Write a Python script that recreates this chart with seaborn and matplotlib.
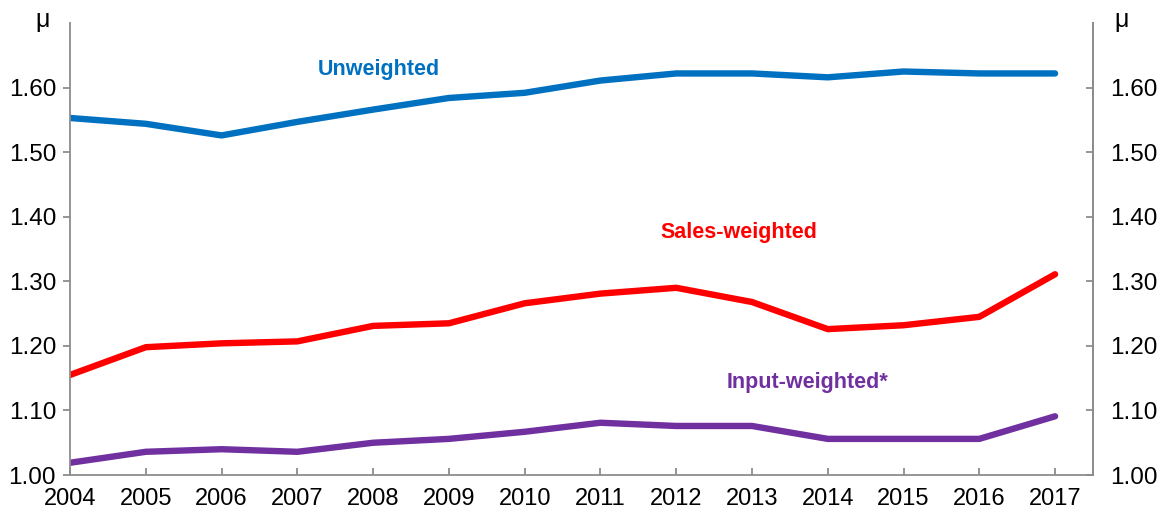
import pandas as pd
import matplotlib
matplotlib.use("Agg")
import matplotlib.pyplot as plt
import seaborn as sns

# ------------------------------
# Data
# ------------------------------
years = list(range(2004, 2018))
unweighted = [1.553, 1.544, 1.526, 1.547, 1.566, 1.584, 1.592, 1.611, 1.622, 1.622, 1.616, 1.625, 1.622, 1.622]
sales_weighted = [1.155, 1.198, 1.204, 1.207, 1.231, 1.235, 1.266, 1.281, 1.290, 1.268, 1.226, 1.232, 1.245, 1.311]
input_weighted = [1.019, 1.036, 1.040, 1.036, 1.050, 1.056, 1.067, 1.081, 1.076, 1.076, 1.056, 1.056, 1.056, 1.091]

series_names = ["Unweighted", "Sales-weighted", "Input-weighted*"]
series_colors = ["#0070C0", "#FF0000", "#7030A0"]
y_ticks = [1.00, 1.10, 1.20, 1.30, 1.40, 1.50, 1.60]

df = pd.DataFrame({
    "year": years * 3,
    "markup": unweighted + sales_weighted + input_weighted,
    "series": [series_names[0]] * 14 + [series_names[1]] * 14 + [series_names[2]] * 14,
})

# ------------------------------
# Style
# ------------------------------
sns.set_style("white")
plt.rcParams['font.family'] = ['Liberation Sans', 'DejaVu Sans']
plt.rcParams['text.color'] = 'black'
plt.rcParams['xtick.color'] = 'black'
plt.rcParams['ytick.color'] = 'black'

fig = plt.figure(figsize=(11.61, 5.13), dpi=100)
ax = fig.add_axes([0.0603, 0.074, 0.8811, 0.881])

sns.lineplot(data=df, x="year", y="markup", hue="series", palette=series_colors,
             hue_order=series_names, linewidth=4.6, legend=False, ax=ax,
             solid_capstyle="round")

ax.set_xlim(2004, 2017.5)
ax.set_ylim(1.0, 1.7)
ax.set_xticks(years)
ax.set_yticks(y_ticks)
ax.set_yticklabels([f"{t:.2f}" for t in y_ticks])
ax.set_xlabel("")
ax.set_ylabel("")

spine_color = "#8C8C8C"
ax.spines["top"].set_visible(False)
for side in ["left", "right", "bottom"]:
    ax.spines[side].set_color(spine_color)
    ax.spines[side].set_linewidth(1.3)

ax.tick_params(axis="y", which="both", direction="out", length=5, width=1.3,
               color=spine_color, labelcolor="black", labelsize=17.5, left=True, pad=5)
ax.tick_params(axis="x", direction="in", length=5, width=1.3,
               color=spine_color, labelcolor="black", labelsize=17, bottom=True, pad=9)

# right axis mirrors the left one
ax2 = ax.twinx()
ax2.set_ylim(ax.get_ylim())
ax2.set_yticks(y_ticks)
ax2.set_yticklabels([f"{t:.2f}" for t in y_ticks])
for side in ["top", "left", "bottom"]:
    ax2.spines[side].set_visible(False)
ax2.spines["right"].set_color(spine_color)
ax2.spines["right"].set_linewidth(1.3)
ax2.tick_params(axis="y", direction="in", length=5, width=1.3,
                color=spine_color, labelcolor="black", labelsize=17.5, right=True, pad=12)

# series labels
ax.text(2008.07, 1.628, "Unweighted", color=series_colors[0], fontsize=15.5,
        fontweight="bold", ha="center", va="center")
ax.text(2012.83, 1.376, "Sales-weighted", color=series_colors[1], fontsize=15.5,
        fontweight="bold", ha="center", va="center")
ax.text(2013.73, 1.143, "Input-weighted*", color=series_colors[2], fontsize=15.5,
        fontweight="bold", ha="center", va="center")

# mu labels on top of both axes
fig.text(43 / 1161, 1 - 20 / 513, "μ", fontsize=18, ha="center", va="center")
fig.text(1122 / 1161, 1 - 20 / 513, "μ", fontsize=18, ha="center", va="center")

plt.savefig("out.png", dpi=100)
